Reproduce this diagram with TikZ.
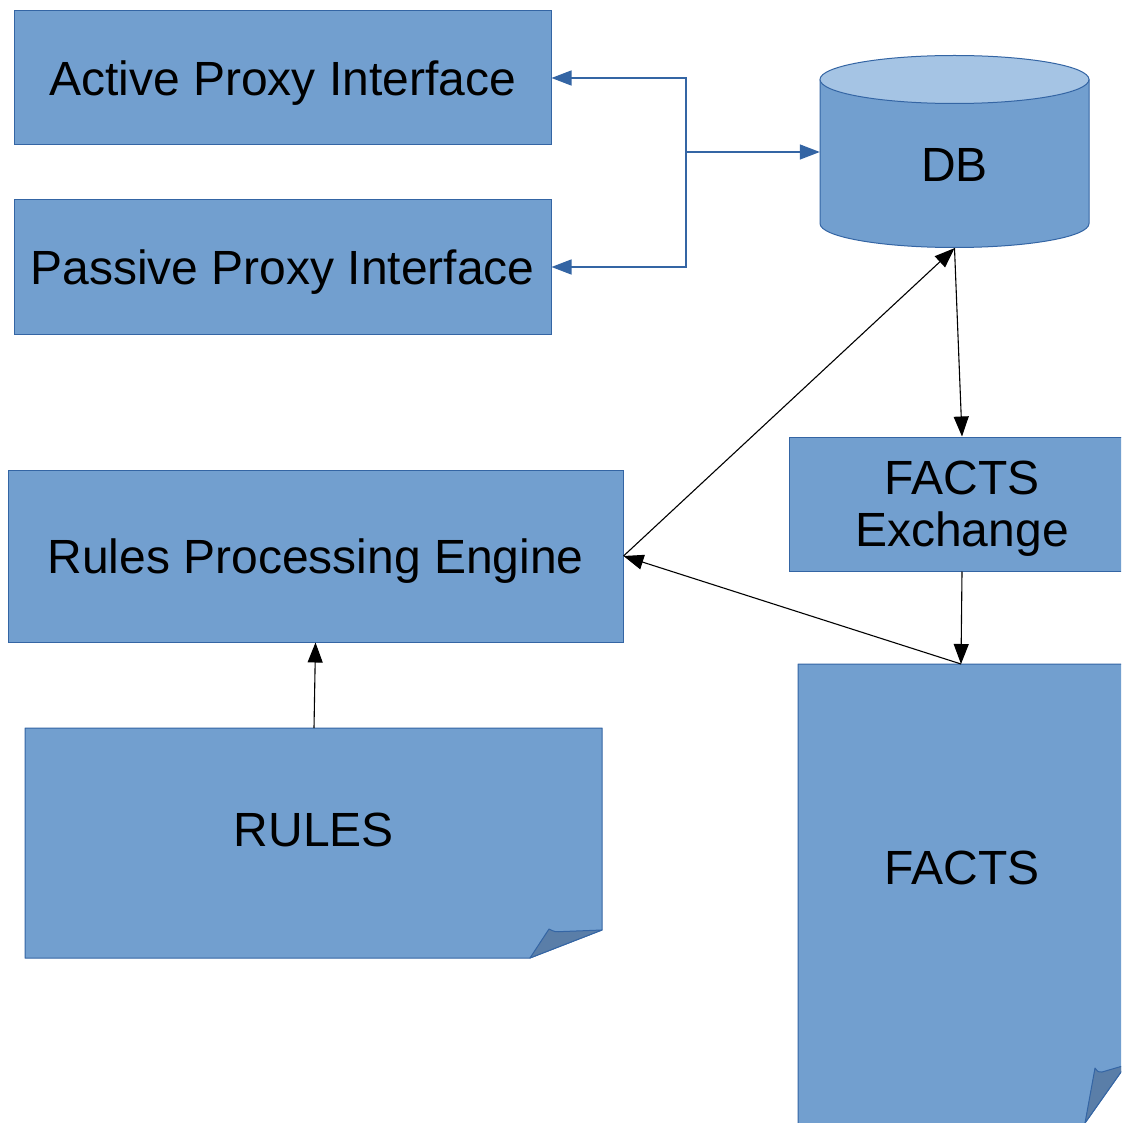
\documentclass[tikz,border=0pt]{standalone}
\usepackage{fontspec}
\setmainfont{Liberation Sans}
\usetikzlibrary{arrows.meta}
\definecolor{boxfill}{HTML}{729FCF}
\definecolor{boxline}{HTML}{3465A4}
\definecolor{dbtop}{HTML}{A5C4E4}
\definecolor{foldc}{HTML}{5A7EA8}
\begin{document}
\begin{tikzpicture}[x=1pt,y=-1pt,
  box/.style={draw=boxline, fill=boxfill, line width=1pt, inner sep=0pt, align=center, text depth=0pt, font=\fontsize{48}{52}\selectfont},
  lbl/.style={inner sep=0pt, align=center, font=\fontsize{48}{52}\selectfont},
  shapeline/.style={draw=boxline, line width=1pt, line join=round},
  bluearrow/.style={draw=boxline, line width=1.4pt, -{Triangle[length=20pt,width=15pt]}},
  blackarrow/.style={draw=black, line width=1.1pt, -{Triangle[length=20pt,width=15pt]}}]
\useasboundingbox (0,0) rectangle (1121,1123);
\clip (0,0) rectangle (1121,1123);
\fill[white] (0,0) rectangle (1121,1123);

% proxy interfaces
\node[box, minimum width=537pt, minimum height=134pt] (api) at (282.5,78) {Active Proxy Interface};
\node[box, minimum width=537pt, minimum height=134pt] (ppi) at (282.5,267) {Passive Proxy Interface};

% DB cylinder
\node[minimum width=269pt, minimum height=192pt, inner sep=0pt] (db) at (954.5,152) {};
\path[shapeline, fill=boxfill] (820,79.5) -- (820,223.5)
  arc[start angle=180, end angle=360, x radius=134.5pt, y radius=24pt] -- (1089,79.5) -- cycle;
\path[shapeline, fill=dbtop] (954.5,79.5) ellipse [x radius=134.5pt, y radius=24pt];
\node[lbl] (dbtext) at (954.5,165) {DB};

% FACTS Exchange
\node[box, minimum width=346pt, minimum height=134pt] (fx) at (962,504) {FACTS\\Exchange};

% Rules Processing Engine
\node[box, minimum width=615pt, minimum height=172pt] (rpe) at (315.5,556) {Rules Processing Engine};

% RULES document
\path[shapeline, fill=boxfill] (25,728) -- (602,728) -- (602,930) -- (530,958) -- (25,958) -- cycle;
\path[shapeline, fill=foldc] (530,958) -- (549,929) .. controls (555,932) .. (563,931.5) -- (602,930) -- cycle;
\coordinate (rulesN) at (314,728);
\node[lbl] (rules) at (314,830) {RULES};

% FACTS document
\path[shapeline, fill=boxfill] (798,1140) -- (798,664) -- (1140,664) -- (1140,1045) -- (1073,1140) -- cycle;
\path[shapeline, fill=foldc] (1085,1123) -- (1095,1068) .. controls (1098,1072) .. (1102,1072) -- (1126,1065) -- cycle;
\coordinate (factsN) at (961,664);
\node[lbl] (facts) at (962,868) {FACTS};

% blue connectors
\coordinate (j) at (686,152);
\draw[bluearrow] (j) -- (db.west);
\draw[bluearrow] (j) |- (api.east);
\draw[bluearrow] (j) |- (ppi.east);

% black connectors
\draw[blackarrow] (db.south) -- (fx.north);
\draw[blackarrow] (fx.south) -- (factsN);
\draw[blackarrow] (factsN) -- (rpe.east);
\draw[blackarrow] (rpe.east) -- (db.south);
\draw[blackarrow] (rulesN) -- (rpe.south);
\end{tikzpicture}
\end{document}
